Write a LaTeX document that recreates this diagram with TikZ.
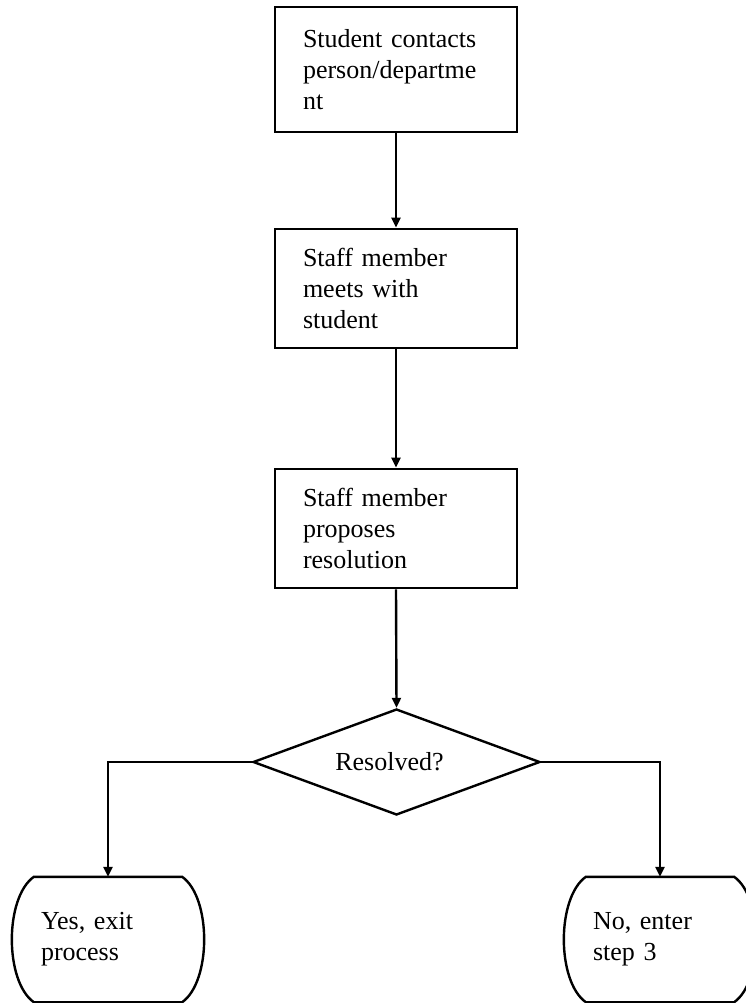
\documentclass[tikz,border=0pt]{standalone}
\usepackage{fontspec}
\setmainfont{Liberation Serif}
\usetikzlibrary{arrows.meta,shapes.geometric,calc}
\begin{document}
\begin{tikzpicture}[x=1pt,y=-1pt,
  every node/.style={font=\fontsize{26}{31}\selectfont},
  line/.style={line width=2.4pt,draw=black},
  arr/.style={line, -{Triangle[length=10pt,width=9pt]}},
  stepbox/.style={line, line width=2.8pt, draw, rectangle, minimum width=242pt, minimum height=119pt,
    text width=186pt, inner xsep=28pt, align=left},
  term/.style={rectangle, minimum width=192pt, minimum height=125pt,
    text width=134pt, inner xsep=29pt, align=left},
  decision/.style={line, draw, diamond, aspect=2.7, minimum width=287pt, minimum height=106pt, inner sep=0pt}
]
\useasboundingbox (0,0) rectangle (745,1003);
\fill[white] (0,0) rectangle (745,1003);

\node[stepbox, minimum height=125pt] (s1) at (396,69.5) {Student contacts\\person/departme\\nt};
\node[stepbox] (s2) at (396,288.5) {Staff member\\meets with\\student};
\node[stepbox] (s3) at (396,528.5) {Staff member\\proposes\\resolution};
\node[decision] (d) at (396.5,762) {\raisebox{-4pt}{Resolved?}\hspace*{14pt}};
\node[term] (yes) at (108,939.5) {\raisebox{4pt}{\parbox[b]{134pt}{Yes, exit\\process}}};
\node[term] (no) at (660,939.5) {\raisebox{4pt}{\parbox[b]{134pt}{No, enter\\step 3}}};

\foreach \n in {yes,no}{
  \draw[line] ([xshift=22pt]\n.north west) -- ([xshift=-22pt]\n.north east)
    .. controls ([xshift=7.3pt,yshift=-21pt]\n.north east) and ([xshift=7.3pt,yshift=21pt]\n.south east)
    .. ([xshift=-22pt]\n.south east) -- ([xshift=22pt]\n.south west)
    .. controls ([xshift=-7.3pt,yshift=21pt]\n.south west) and ([xshift=-7.3pt,yshift=-21pt]\n.north west)
    .. cycle;
}

\draw[arr] (s1.south) -- (s2.north);
\draw[arr] (s2.south) -- (s3.north);
\draw[arr] (s3.south) -- (d.north);
\draw[arr] (d.west) -| (yes.north);
\draw[arr] (d.east) -| (no.north);
\end{tikzpicture}
\end{document}
